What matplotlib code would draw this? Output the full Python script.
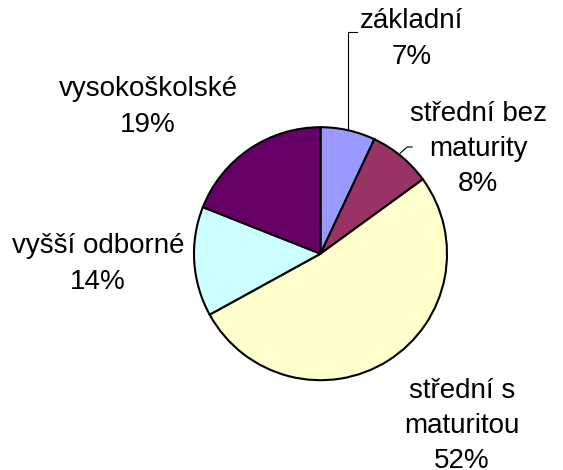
import numpy as np
import matplotlib.pyplot as plt

labels = ['základní', 'střední bez\nmaturity', 'střední s\nmaturitou', 'vyšší odborné', 'vysokoškolské']
shares = [7, 8, 52, 14, 19]
colors = ['#9999FF', '#993366', '#FFFFCC', '#CCFFFF', '#660066']

# label centres in pixel coords (y from top)
label_pos = [(412, 39), (478, 149), (462, 426), (98, 264), (148, 107)]

W, H = 563, 470
plt.rcParams['font.family'] = ['Liberation Sans', 'DejaVu Sans']
fig = plt.figure(figsize=(W / 100, H / 100), dpi=100)
ax = fig.add_axes([0, 0, 1, 1])

cx, cy, r = 320.5, H - 253.7, 126.5
ax.pie(shares, colors=colors, startangle=90, counterclock=False,
       center=(cx, cy), radius=r, frame=True,
       wedgeprops=dict(edgecolor='black', linewidth=1.5))
ax.set_xlim(0, W)
ax.set_ylim(0, H)
ax.set_aspect('equal')
ax.axis('off')

for lab, val, (lx, ly) in zip(labels, shares, label_pos):
    ax.text(lx, H - ly, f'{lab}\n{val}%', ha='center', va='center',
            fontsize=20, linespacing=1.47, color='black')

# leader lines for the two small slices
cum = np.cumsum([0] + shares)
mid = [90 - 3.6 * (cum[i] + shares[i] / 2) for i in range(len(shares))]
a = np.radians(mid[0])
ex, ey = cx + r * np.cos(a), cy + r * np.sin(a)
ax.plot([ex, ex, ex + 9], [ey, H - 32, H - 32], color='black', lw=0.8)
a = np.radians(mid[1])
ex, ey = cx + r * np.cos(a), cy + r * np.sin(a)
ax.plot([ex - 1, ex + 6, ex + 11], [ey + 3, H - 147, H - 147], color='black', lw=0.8)

fig.savefig('out.png', dpi=100, facecolor='white')
